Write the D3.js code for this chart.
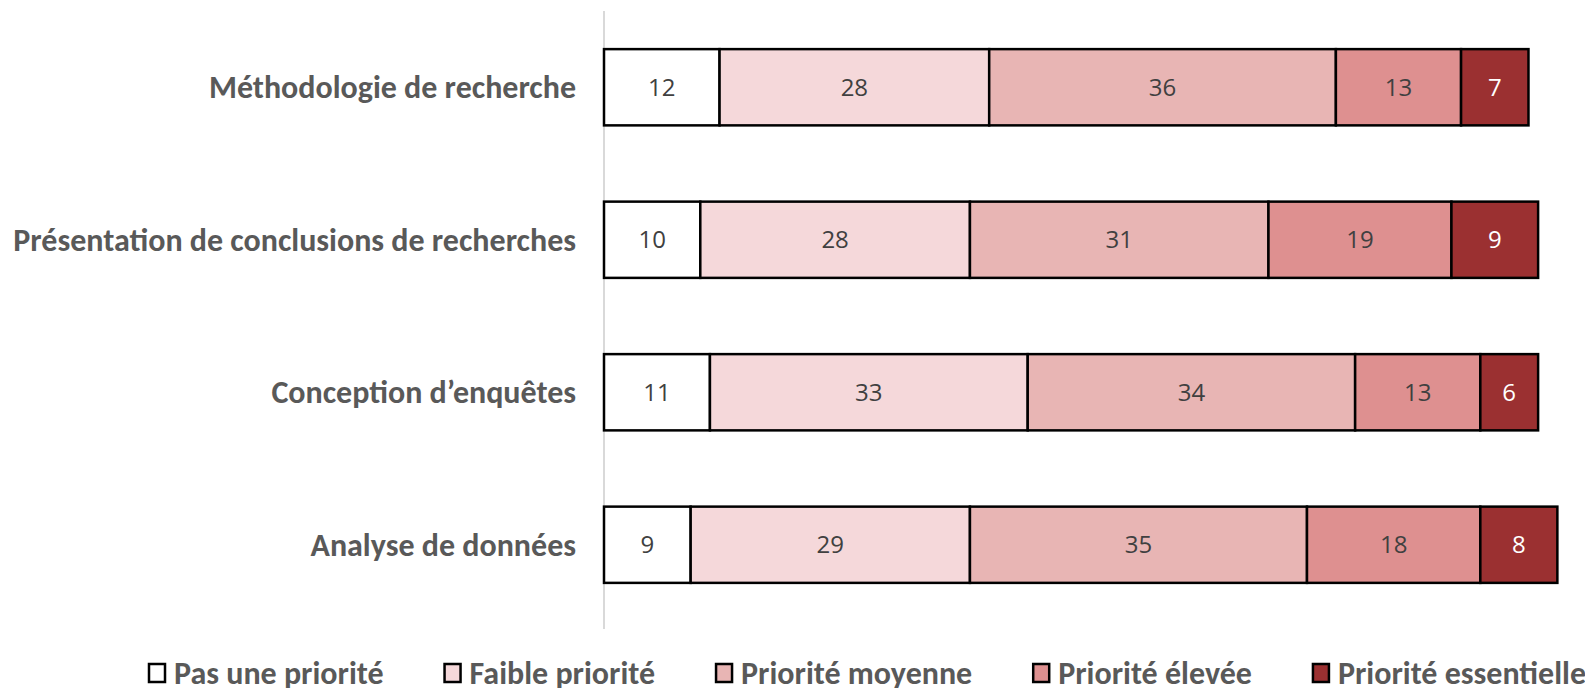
<!DOCTYPE html>
<html>
<head>
<meta charset="utf-8">
<script src="https://cdn.jsdelivr.net/npm/d3@7"></script>
<style>
  body { margin: 0; background: #fff; }
  text { font-family: Carlito, Calibri, Lato, "Open Sans", sans-serif; }
</style>
</head>
<body>
<div id="chart"></div>
<script>
var categories = ["Méthodologie de recherche", "Présentation de conclusions de recherches", "Conception d’enquêtes", "Analyse de données"];
var series = ["Pas une priorité", "Faible priorité", "Priorité moyenne", "Priorité élevée", "Priorité essentielle"];
var colors = ["#ffffff", "#f5d8da", "#e8b5b4", "#de9090", "#9b3031"];
var pasUnePriorite = [12, 10, 11, 9];
var faiblePriorite = [28, 28, 33, 29];
var prioriteMoyenne = [36, 31, 34, 35];
var prioriteElevee = [13, 19, 13, 18];
var prioriteEssentielle = [7, 9, 6, 8];

var width = 1585,
    height = 688,
    margin = { left: 604, right: 16, top: 11, bottom: 67 };

var svg = d3.select("#chart").append("svg")
    .attr("width", width)
    .attr("height", height);

var rows = categories.map(function(c, i) {
    return {
        cat: c,
        vals: [pasUnePriorite[i], faiblePriorite[i], prioriteMoyenne[i], prioriteElevee[i], prioriteEssentielle[i]]
    };
});

var x = d3.scaleLinear().domain([0, 100]).range([margin.left, margin.left + 963]);
var y = d3.scaleBand().domain(categories)
    .range([margin.top, height - margin.bottom])
    .paddingInner(0.5).paddingOuter(0.25);

// category axis line
svg.append("line")
    .attr("x1", margin.left).attr("x2", margin.left)
    .attr("y1", margin.top).attr("y2", height - margin.bottom + 8)
    .attr("stroke", "#d9d9d9").attr("stroke-width", 2);

var rowG = svg.selectAll(".row").data(rows).enter().append("g")
    .attr("class", "row");

rowG.each(function(r) {
    var g = d3.select(this);
    var acc = 0;
    var segs = r.vals.map(function(v, k) {
        var s = { v: v, k: k, x0: acc, x1: acc + v };
        acc += v;
        return s;
    });
    g.selectAll("rect").data(segs).enter().append("rect")
        .attr("x", function(d) { return x(d.x0); })
        .attr("width", function(d) { return x(d.x1) - x(d.x0); })
        .attr("y", y(r.cat))
        .attr("height", y.bandwidth())
        .attr("fill", function(d) { return colors[d.k]; })
        .attr("stroke", "#000")
        .attr("stroke-width", 2.5);
    g.selectAll(".val").data(segs).enter().append("text")
        .attr("class", "val")
        .attr("x", function(d) { return (x(d.x0) + x(d.x1)) / 2; })
        .attr("y", y(r.cat) + y.bandwidth() / 2)
        .attr("dy", "0.35em")
        .attr("text-anchor", "middle")
        .style("font-family", "'Open Sans', sans-serif")
        .style("font-size", "24px")
        .attr("fill", function(d) { return d.k == 4 ? "#ffffff" : "#404040"; })
        .text(function(d) { return d.v; });
});

svg.selectAll(".cat").data(categories).enter().append("text")
    .attr("class", "cat")
    .attr("x", margin.left - 28)
    .attr("y", function(d) { return y(d) + y.bandwidth() / 2; })
    .attr("dy", "0.35em")
    .attr("text-anchor", "end")
    .style("font-size", "32px")
    .style("font-weight", "bold")
    .attr("fill", "#595959")
    .text(function(d) { return d; });

// legend
var legend = svg.append("g").attr("class", "legend");
var lx = 149, ly = 673;
series.forEach(function(s, i) {
    var item = legend.append("g").attr("transform", "translate(" + lx + "," + ly + ")");
    item.append("rect")
        .attr("x", 0).attr("y", -9)
        .attr("width", 16).attr("height", 18)
        .attr("fill", colors[i])
        .attr("stroke", "#000").attr("stroke-width", 2.5);
    var t = item.append("text")
        .attr("x", 25).attr("dy", "0.35em")
        .style("font-size", "32px")
        .style("font-weight", "bold")
        .attr("fill", "#595959")
        .text(s);
    lx += 25 + t.node().getComputedTextLength() + 61;
});
</script>
</body>
</html>
